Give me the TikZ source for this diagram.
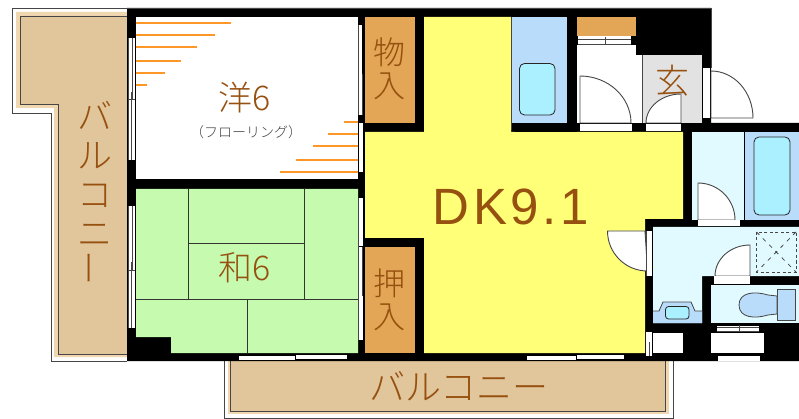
\documentclass[tikz,border=0pt]{standalone}
\usepackage{fontspec}
\setmainfont[UprightFont={* Light}]{Noto Sans CJK JP}
\newfontfamily\latinfont{Liberation Sans}
\definecolor{tanfill}{RGB}{225,197,155}
\definecolor{tanband}{RGB}{240,215,175}
\definecolor{brownink}{RGB}{150,80,15}
\definecolor{closet}{RGB}{226,166,86}
\definecolor{hatchorange}{RGB}{255,150,40}
\definecolor{tatami}{RGB}{197,250,175}
\definecolor{dk}{RGB}{255,255,120}
\definecolor{bathblue}{RGB}{185,220,250}
\definecolor{tub}{RGB}{170,240,255}
\definecolor{pale}{RGB}{225,250,255}
\definecolor{entry}{RGB}{226,226,226}
\definecolor{linegrey}{RGB}{70,70,70}
\tikzset{
  plain/.style={line width=0.8pt,draw=linegrey},
  tatamiline/.style={line width=0.8pt,draw=black!80},
  hatchline/.style={line width=1.5pt,draw=hatchorange},
  door/.style={fill=white,draw=linegrey,line width=0.9pt},
  sill/.style={fill=white,draw=none},
  tub shape/.style={fill=tub,draw=black!85,line width=0.8pt,rounded corners=5pt},
  label/.style={text=brownink,inner sep=0pt,align=center},
}
\newcommand{\sizedtext}[1]{\fontsize{#1}{#1}\selectfont}
\begin{document}
\begin{tikzpicture}[x=1pt,y=-1pt]
\useasboundingbox (0,0) rectangle (799,419);
\fill[white] (0,0) rectangle (799,419);
% left balcony
\draw[fill=white,line width=0.8pt,draw=linegrey] (127,8) -- (12,8) -- (12,113) -- (51,113) -- (51,361) -- (127,361);
\fill[tanband] (127,12) -- (16,12) -- (16,108) -- (54,108) -- (54,357) -- (127,357) -- cycle;
\draw[fill=tanfill,plain] (127,16) -- (20.5,16) -- (20.5,104) -- (58,104) -- (58,354) -- (127,354);
% bottom balcony
\draw[fill=white,line width=0.8pt,draw=linegrey] (224,361) -- (224,418) -- (673,418) -- (673,361);
\fill[tanband] (227.5,361) rectangle (669,414);
\draw[fill=tanfill,plain] (230.5,361) -- (230.5,411) -- (665,411) -- (665,361);
% building
\fill[black] (127,8) -- (711,8) -- (711,123) -- (799,123) -- (799,361) -- (127,361) -- cycle;
\draw[line width=0.6pt,draw=linegrey] (127,8) -- (711,8) -- (711,68);
% western room
\fill[white] (136,17) rectangle (358,179);
\draw[hatchline] (136,23) -- (231,23) (136,35) -- (215,35) (136,47) -- (197,47) (136,61) -- (181,61) (136,73) -- (165,73) (136,85) -- (147,85);
\draw[hatchline] (344,122) -- (358,122) (328,134) -- (358,134) (313,146) -- (358,146) (296,160) -- (358,160) (280,172) -- (358,172);
% tatami room
\fill[tatami] (136,189) -- (358,189) -- (358,353) -- (171,353) -- (171,337) -- (136,337) -- cycle;
\draw[tatamiline] (188.5,189) -- (188.5,299.5);
\draw[tatamiline] (304,189) -- (304,299.5);
\draw[tatamiline] (188.5,243) -- (304,243);
\draw[tatamiline] (136,299.5) -- (358,299.5);
\draw[tatamiline] (247,299.5) -- (247,353);
% closets
\fill[closet] (365,17) rectangle (415,123);
\fill[closet] (365,247) rectangle (415,353);
\fill[closet] (577,17) rectangle (636,36);
% dining kitchen
\fill[dk] (424,17) -- (511,17) -- (511,132) -- (683,132) -- (683,219) -- (645,219) -- (645,353) -- (424,353) -- (424,238) -- (365,238) -- (365,132) -- (424,132) -- cycle;
% upper unit bath
\fill[bathblue] (512,17) rectangle (567,123);
\draw[plain] (511,17) -- (511,130);
\fill[black] (515,123) rectangle (577,132);
\draw[tub shape] (519.5,63.5) rectangle (555,115);
% washroom by entry
\fill[white] (577,45) rectangle (636,123);
\fill[white] (578,36.5) rectangle (631,44.5);
\draw[line width=0.7pt,draw=linegrey] (578,39) -- (631,39) (578,44) -- (631,44) (605,37) -- (605,44);
\draw[door] (580,123) -- (580,76) arc[start angle=-90,end angle=0,x radius=51,y radius=47] -- cycle;
\fill[sill] (580,124) rectangle (632,131);
% entry
\fill[white] (636,55) rectangle (643,123);
\draw[line width=0.7pt,draw=linegrey] (642.5,55) -- (642.5,123);
\fill[entry] (643,55) rectangle (702,123);
\fill[sill] (646,124) rectangle (681,131);
% entry text precedes door
\node[label,font=\sizedtext{34}] (genkan) at (672,81) {玄};
\draw[door] (681,123) -- (681,94) arc[start angle=-90,end angle=-180,x radius=35,y radius=29] -- cycle;
\fill[sill] (703,68) rectangle (710,118);
\draw[door] (711,118) -- (711,71) arc[start angle=-90,end angle=0,x radius=42,y radius=47] -- cycle;
% right bath
\fill[pale] (692,132) rectangle (744,220);
\fill[bathblue] (745,132) rectangle (799,220);
\draw[tub shape] (754,137) rectangle (790,215);
\draw[door] (698,220) -- (698,183) arc[start angle=-90,end angle=0,x radius=37,y radius=37] -- cycle;
\fill[sill] (698,220) rectangle (740,226);
% washroom
\fill[pale] (653,227) -- (799,227) -- (799,276) -- (702,276) -- (702,323) -- (653,323) -- cycle;
\draw[plain,dash pattern=on 3pt off 2.5pt] (756.5,232) rectangle (796,272);
\draw[plain,dash pattern=on 4pt off 5pt] (756.5,232) -- (796,272) (796,232) -- (756.5,272);
\draw[door] (750,276) -- (750,245) arc[start angle=-90,end angle=-180,x radius=35,y radius=31] -- cycle;
\fill[sill] (714,276) rectangle (750,284);
\fill[bathblue] (653,311) -- (659,311) -- (663,302) -- (691,302) -- (695,311) -- (702,311) -- (702,323) -- (653,323) -- cycle;
\draw[plain] (653,311) -- (659,311) -- (663,302) -- (691,302) -- (695,311) -- (702,311);
\draw[tub shape,rounded corners=3pt] (665.5,306.5) rectangle (689,319);
% toilet
\fill[pale] (711,285) rectangle (799,323);
\draw[fill=bathblue,plain] (777,289) rectangle (795,320);
\draw[fill=bathblue,plain] (777,296) -- (768,295) .. controls (755,291) and (739,292) .. (739,305) .. controls (739,318) and (755,319) .. (768,315) -- (777,314) -- cycle;
% door and window strips on the right
\fill[sill] (717,325.5) rectangle (759,332);
\draw[line width=0.7pt,draw=linegrey] (717,327) -- (759,327) (717,331) -- (759,331) (739,325) -- (739,332);
\fill[white] (653,333) rectangle (683,353);
\fill[white] (711,333) rectangle (764,353);
\fill[sill] (718,356) rectangle (760,361);
\fill[sill] (646,332) rectangle (652,356);
\draw[line width=0.7pt,draw=linegrey] (649,342) -- (649,356);
% dining door
\draw[door] (645,231) -- (607.5,231) arc[start angle=180,end angle=90,radius=40] -- cycle;
\fill[sill] (646,231) rectangle (652,276);
\draw[line width=0.7pt,draw=linegrey] (646,231) -- (646,276);
% left windows
\fill[sill] (128,38) rectangle (135,160);
\draw[line width=0.8pt,draw=linegrey] (128.5,38) -- (128.5,160) (132,38) -- (132,100) (131,92) -- (131,160) (128,99) -- (135,99);
\fill[sill] (128,206) rectangle (135,328);
\draw[line width=0.8pt,draw=linegrey] (128.5,206) -- (128.5,328) (132,206) -- (132,270) (131,262) -- (131,328) (128,270) -- (135,270);
% interior sliding doors
\fill[sill] (359,25) rectangle (362,115);
\draw[line width=0.7pt,draw=linegrey] (358.5,25) -- (358.5,115) (362,74) -- (362,115);
\fill[sill] (359,123) rectangle (363,172);
\fill[sill] (359,198) rectangle (363,246);
\fill[sill] (359,247) rectangle (363,340);
\draw[line width=0.7pt,draw=linegrey] (358.5,198) -- (358.5,340) (362,247) -- (362,296);
% bottom sliding doors
\fill[sill] (239,356) rectangle (295,360);
\fill[sill] (296,355) rectangle (347,359);
\fill[sill] (527,356) rectangle (576,360);
\fill[sill] (577,355) rectangle (624,359);
% labels
\node[label,font=\sizedtext{34}] (yo) at (245,98) {洋6};
\node[inner sep=0pt,text=black!75,font=\sizedtext{14}] (floor) at (246,132) {（フローリング）};
\node[label,font=\sizedtext{34}] (wa) at (245,268) {和6};
\node[label,font=\sizedtext{32}] (mono) at (389,69) {物\\[1pt]入};
\node[label,font=\sizedtext{32}] (oshi) at (389,300) {押\\[1pt]入};
\node[label] (dining) at (511,207) {\latinfont\addfontfeature{LetterSpace=7}\sizedtext{51}DK9.1};
\node[label,font=\sizedtext{35}] (balcl) at (95,193) {バ\\[4pt]ル\\[4pt]コ\\[4pt]ニ\\[4pt]\rotatebox{90}{ー}};
\node[label,font=\sizedtext{36}] (balcb) at (459,386) {バルコニー};
\end{tikzpicture}
\end{document}
